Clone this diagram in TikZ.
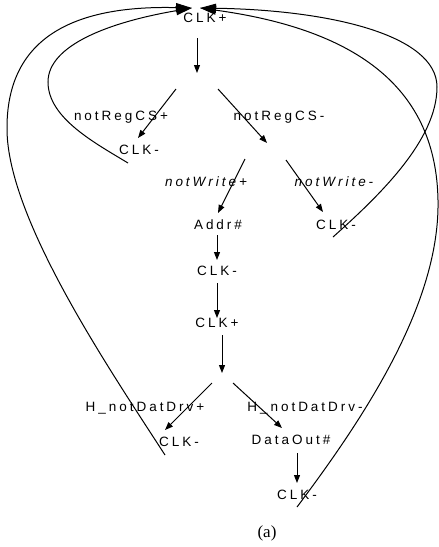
\documentclass[tikz,border=0pt]{standalone}
\usepackage{fontspec}
\setmainfont{Liberation Sans}
\newfontfamily\lblfont[LetterSpace=22]{Liberation Sans}
\newfontfamily\capfont{Liberation Serif}
\usetikzlibrary{arrows.meta}
\begin{document}
\begin{tikzpicture}[x=1pt,y=-1pt,
  lbl/.style={inner sep=0pt,font=\lblfont\fontsize{13.5}{15}\selectfont},
  ilbl/.style={lbl,font=\lblfont\itshape\fontsize{13.5}{15}\selectfont},
  tarrow/.style={line width=1pt,-{Triangle[length=8pt,width=6pt]}},
  loop/.style={line width=1pt,-{Triangle[length=16pt,width=9pt]}}]
\useasboundingbox (0,0) rectangle (439,547);
% labels
\node[lbl] (clkTop) at (205,18) {CLK+};
\node[lbl] (rcsP) at (121,117) {notRegCS+};
\node[lbl] (rcsM) at (279,117) {notRegCS-};
\node[lbl] (clkA) at (139,150) {CLK-};
\node[ilbl] (wrP) at (206,182) {notWrite+};
\node[ilbl] (wrM) at (334,182) {notWrite-};
\node[lbl] (addr) at (218,225) {Addr\#};
\node[lbl] (clkB) at (336,225) {CLK-};
\node[lbl] (clkC) at (217,271) {CLK-};
\node[lbl] (clkD) at (217,323) {CLK+};
\node[lbl] (hdP) at (145,408) {H\_notDatDrv+};
\node[lbl] (hdM) at (305,408) {H\_notDatDrv-};
\node[lbl] (clkE) at (179,442) {CLK-};
\node[lbl] (dout) at (291,440) {DataOut\#};
\node[lbl] (clkF) at (297,495) {CLK-};
\node[inner sep=0pt,font=\capfont\fontsize{17}{19}\selectfont] (cap) at (267,533) {(a)};
% arrow end points
\coordinate (a1s) at (197,38);  \coordinate (a1e) at (197,73);
\coordinate (a2s) at (176,89);  \coordinate (a2e) at (138,138);
\coordinate (a3s) at (218,89);  \coordinate (a3e) at (267,143);
\coordinate (a4s) at (245,159); \coordinate (a4e) at (218,213);
\coordinate (a5s) at (286,160); \coordinate (a5e) at (323,212);
\coordinate (a6s) at (217,235); \coordinate (a6e) at (217,260);
\coordinate (a7s) at (217,283); \coordinate (a7e) at (217,318);
\coordinate (a8s) at (222,335); \coordinate (a8e) at (222,373);
\coordinate (a9s) at (212,383); \coordinate (a9e) at (165,430);
\coordinate (a10s) at (233,383); \coordinate (a10e) at (282,428);
\coordinate (a11s) at (297,453); \coordinate (a11e) at (297,483);
\draw[tarrow] (a1s) -- (a1e);
\draw[tarrow] (a2s) -- (a2e);
\draw[tarrow] (a3s) -- (a3e);
\draw[tarrow] (a4s) -- (a4e);
\draw[tarrow] (a5s) -- (a5e);
\draw[tarrow] (a6s) -- (a6e);
\draw[tarrow] (a7s) -- (a7e);
\draw[tarrow] (a8s) -- (a8e);
\draw[tarrow] (a9s) -- (a9e);
\draw[tarrow] (a10s) -- (a10e);
\draw[tarrow] (a11s) -- (a11e);
% loop-back curves
\coordinate (tipL) at (192,8);
\coordinate (tipR) at (200,8);
\coordinate (l1s) at (128,163);
\coordinate (l2s) at (165,455);
\coordinate (r1s) at (333,237);
\coordinate (r2s) at (297,507);
\draw[loop] (l1s) .. controls (95,143) and (48,118) .. (48,82)
  .. controls (48,45) and (110,22) .. (tipL);
\draw[loop] (l2s) .. controls (110,370) and (8,220) .. (7,130)
  .. controls (6,40) and (70,5) .. (tipL);
\draw[loop] (r1s) .. controls (380,195) and (437,140) .. (437,87)
  .. controls (437,35) and (330,10) .. (tipR);
\draw[loop] (r2s) .. controls (370,410) and (440,300) .. (438,200)
  .. controls (436,90) and (360,30) .. (tipR);
\end{tikzpicture}
\end{document}
